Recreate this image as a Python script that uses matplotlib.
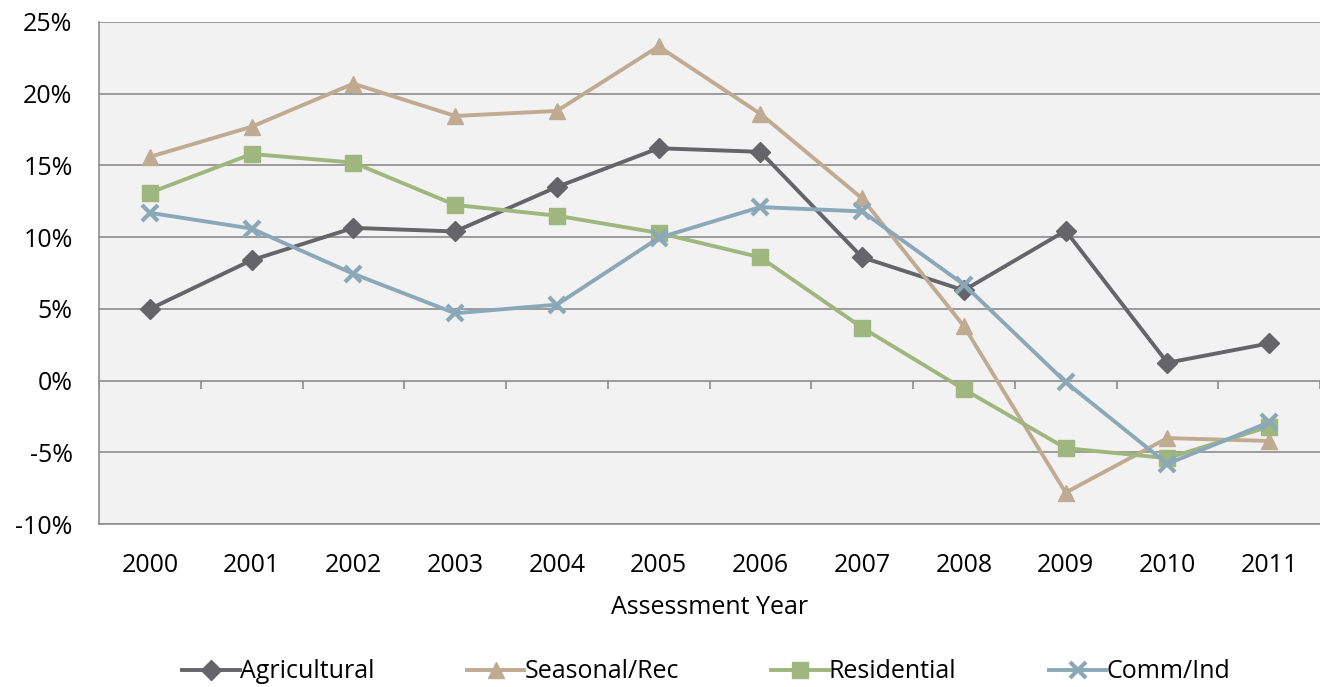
import numpy as np
import matplotlib.pyplot as plt
from matplotlib.ticker import FuncFormatter, MultipleLocator

plt.rcParams['font.family'] = ['Open Sans', 'DejaVu Sans']

years = ["2000", "2001", "2002", "2003", "2004", "2005",
         "2006", "2007", "2008", "2009", "2010", "2011"]

agricultural = [5.0, 8.4, 10.65, 10.4, 13.5, 16.2, 15.95, 8.6, 6.3, 10.45, 1.25, 2.6]
seasonal_rec = [15.6, 17.7, 20.7, 18.45, 18.8, 23.3, 18.6, 12.7, 3.8, -7.8, -4.0, -4.2]
residential = [13.1, 15.8, 15.2, 12.25, 11.5, 10.3, 8.6, 3.7, -0.6, -4.7, -5.4, -3.2]
comm_ind = [11.7, 10.6, 7.45, 4.7, 5.3, 9.95, 12.1, 11.8, 6.7, -0.1, -5.8, -2.9]

series = [
    ("Agricultural", agricultural, "#646469", "D", 10),
    ("Seasonal/Rec", seasonal_rec, "#C0AB92", "^", 12),
    ("Residential", residential, "#9FB77E", "s", 11),
    ("Comm/Ind", comm_ind, "#8BA8B8", "x", 11),
]

fs = 18

fig = plt.figure(figsize=(13.2, 6.87), dpi=100)
ax = fig.add_axes([0.075, 0.237, 0.925, 0.731])
ax.set_facecolor("#F2F2F2")

x = np.arange(len(years))
for name, vals, color, marker, ms in series:
    kw = dict(markeredgewidth=3) if marker == "x" else dict(markeredgecolor=color)
    ax.plot(x, vals, color=color, lw=2.8, marker=marker, markersize=ms,
            label=name, zorder=3, **kw)

ax.set_xlim(-0.5, len(years) - 0.5)
ax.set_ylim(-10, 25)
ax.yaxis.set_major_locator(MultipleLocator(5))
ax.yaxis.set_major_formatter(FuncFormatter(lambda v, p: f"{v:.0f}%"))
ax.grid(axis="y", color="#8C8C8C", lw=1.2, zorder=1)
ax.set_axisbelow(True)

for s in ["top", "right"]:
    ax.spines[s].set_visible(False)
for s in ["left", "bottom"]:
    ax.spines[s].set_color("#8C8C8C")
    ax.spines[s].set_linewidth(1.2)

# category axis sits on the 0% line, tick marks between categories
ax.vlines(np.arange(len(years) + 1) - 0.5, 0, -0.55, color="#8C8C8C", lw=1.2, zorder=2)

ax.set_xticks(x)
ax.set_xticklabels(years)
ax.tick_params(axis="x", length=0, pad=21, labelsize=fs)
ax.tick_params(axis="y", length=0, pad=19, labelsize=fs)
ax.set_xlabel("Assessment Year", fontsize=fs, labelpad=12)

fig.legend(loc="center", bbox_to_anchor=(0.535, 0.022), ncol=4, frameon=False,
           fontsize=fs, columnspacing=3.7, handlelength=2.3, handletextpad=0.0)

fig.savefig("out.png", dpi=100)
